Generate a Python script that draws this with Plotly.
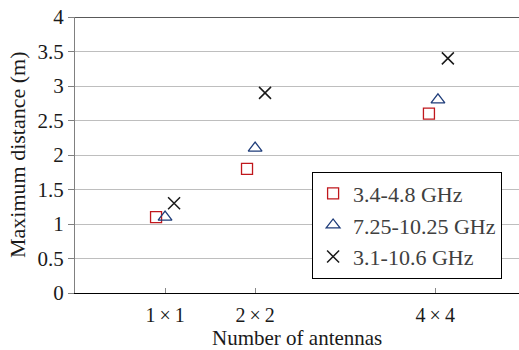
import plotly.graph_objects as go

# Data
tick_vals = [1, 2, 4]
tick_text = ["1\u2009×\u20091", "2\u2009×\u20092", "4\u2009×\u20094"]

s1_name = "3.4-4.8 GHz"
s1_x = [0.9, 1.91, 3.93]
s1_y = [1.1, 1.8, 2.6]

s2_name = "7.25-10.25 GHz"
s2_x = [1.0, 2.0, 4.03]
s2_y = [1.1, 2.1, 2.8]

s3_name = "3.1-10.6 GHz"
s3_x = [1.1, 2.11, 4.14]
s3_y = [1.3, 2.9, 3.4]

x_title = "Number of antennas"
y_title = "Maximum distance (m)"

FONT = "Liberation Serif"

fig = go.Figure()
fig.add_trace(go.Scatter(x=s1_x, y=s1_y, mode="markers", name=s1_name,
                         marker=dict(symbol="square-open", size=11, color="#C0171C",
                                     line=dict(width=1.3))))
fig.add_trace(go.Scatter(x=s2_x, y=s2_y, mode="markers", name=s2_name,
                         marker=dict(symbol="triangle-up-open", size=12, color="#1F3D7A",
                                     line=dict(width=1.3))))
fig.add_trace(go.Scatter(x=s3_x, y=s3_y, mode="markers", name=s3_name,
                         marker=dict(symbol="x-thin-open", size=12, color="#1a1a1a",
                                     line=dict(width=1.5))))

fig.update_layout(
    width=519, height=350,
    margin=dict(l=75, r=0, t=17, b=57),
    paper_bgcolor="white", plot_bgcolor="white",
    font=dict(family=FONT, size=21, color="#1a1a1a"),
    showlegend=True,
    legend=dict(x=0.534, y=0.44, xanchor="left", yanchor="top",
                bgcolor="white", bordercolor="black", borderwidth=1,
                font=dict(family=FONT, size=22, color="#404040"),
                itemwidth=30, tracegroupgap=0),
    xaxis=dict(range=[0, 4.93], tickvals=tick_vals, ticktext=tick_text,
               showgrid=False, zeroline=False, showline=True, linecolor="black",
               linewidth=1, ticks="inside", ticklen=5, tickcolor="#888888",
               automargin=False, ticklabelstandoff=4,
               tickfont=dict(family=FONT, size=20)),
    yaxis=dict(range=[0, 4], dtick=0.5, showgrid=True, gridcolor="#BEBEBE",
               gridwidth=1.3, zeroline=False, showline=True, linecolor="#808080",
               linewidth=1.3, ticks="outside", ticklen=6, tickcolor="#808080",
               tickformat="~g", automargin=False,
               tickfont=dict(family=FONT, size=21)),
)
fig.add_annotation(text=x_title, xref="paper", yref="paper", x=0.5, y=0,
                   xanchor="center", yanchor="middle", yshift=-45, showarrow=False,
                   font=dict(family=FONT, size=21))
fig.add_annotation(text=y_title, xref="paper", yref="paper", x=0, y=0.5,
                   xanchor="center", yanchor="middle", xshift=-58, textangle=-90,
                   showarrow=False, font=dict(family=FONT, size=22))
fig.add_shape(type="line", xref="paper", yref="y", x0=0, x1=1, y0=4, y1=4,
              line=dict(color="#222222", width=1.3))

fig.write_html("out.html", config={"displayModeBar": False})

# remove the default 8px page margin so the figure fills the window exactly
with open("out.html", encoding="utf-8") as f:
    html = f.read()
html = html.replace("<head>", "<head><style>html,body{margin:0;padding:0;overflow:hidden;}</style>", 1)
with open("out.html", "w", encoding="utf-8") as f:
    f.write(html)
